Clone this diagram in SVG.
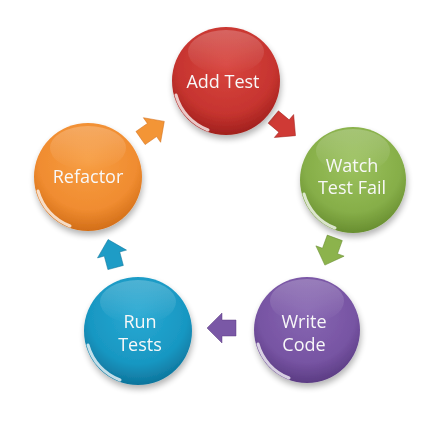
<svg xmlns="http://www.w3.org/2000/svg" width="435" height="429" viewBox="0 0 435 429">
<defs>
  <radialGradient id="gRed" cx="50%" cy="35%" r="65%">
    <stop offset="0" stop-color="#d8453f"/>
    <stop offset="0.7" stop-color="#c6342f"/>
    <stop offset="1" stop-color="#a0201d"/>
  </radialGradient>
  <radialGradient id="gGreen" cx="50%" cy="35%" r="65%">
    <stop offset="0" stop-color="#9cc25f"/>
    <stop offset="0.7" stop-color="#86ae48"/>
    <stop offset="1" stop-color="#688e30"/>
  </radialGradient>
  <radialGradient id="gPurple" cx="50%" cy="35%" r="65%">
    <stop offset="0" stop-color="#8766b2"/>
    <stop offset="0.7" stop-color="#7754a3"/>
    <stop offset="1" stop-color="#5b3c83"/>
  </radialGradient>
  <radialGradient id="gBlue" cx="50%" cy="35%" r="65%">
    <stop offset="0" stop-color="#28a9d3"/>
    <stop offset="0.7" stop-color="#1897c2"/>
    <stop offset="1" stop-color="#0e749b"/>
  </radialGradient>
  <radialGradient id="gOrange" cx="50%" cy="35%" r="65%">
    <stop offset="0" stop-color="#f79d42"/>
    <stop offset="0.7" stop-color="#f08c30"/>
    <stop offset="1" stop-color="#d26e18"/>
  </radialGradient>
  <linearGradient id="gShine" x1="0" y1="0" x2="0" y2="1">
    <stop offset="0" stop-color="#fff" stop-opacity="0.22"/>
    <stop offset="1" stop-color="#fff" stop-opacity="0"/>
  </linearGradient>
  <filter id="shadow" x="-20%" y="-20%" width="140%" height="150%">
    <feGaussianBlur in="SourceAlpha" stdDeviation="3"/>
    <feOffset dx="1" dy="4" result="b"/>
    <feComponentTransfer><feFuncA type="linear" slope="0.3"/></feComponentTransfer>
    <feMerge><feMergeNode/><feMergeNode in="SourceGraphic"/></feMerge>
  </filter>
  <path id="arrow" d="M-14,-8 L0,-8 L0,-15 L15,0 L0,15 L0,8 L-14,8 Z"/>
</defs>
<style>
  .lbl { font-family: "Open Sans", "Liberation Sans", sans-serif; font-size: 18px; fill: #f8f8f8; text-anchor: middle; }
  .shine { fill: url(#gShine); }
  .rim { fill: none; stroke: #ffffff; stroke-opacity: 0.75; stroke-width: 3; stroke-linecap: round; }
  .arr { stroke-width: 0.8; stroke-opacity: 0.6; }
</style>
<rect width="435" height="429" fill="#ffffff"/>

<g id="connectors">
  <use href="#arrow" class="arr" transform="translate(284,126) rotate(40)" fill="#cf3a35" stroke="#9e1e1c"/>
  <use href="#arrow" class="arr" transform="translate(330,251) rotate(110)" fill="#8cb34c" stroke="#648a2c"/>
  <use href="#arrow" class="arr" transform="translate(222,328) rotate(180)" fill="#7a58a6" stroke="#58397f"/>
  <use href="#arrow" class="arr" transform="translate(112,254) rotate(-105)" fill="#1e9cc6" stroke="#0c7198"/>
  <use href="#arrow" class="arr" transform="translate(152,130) rotate(-35)" fill="#f39536" stroke="#cf6a14"/>
</g>

<g id="node-add-test" filter="url(#shadow)">
  <circle cx="226" cy="81" r="54" fill="url(#gRed)"/>
  <ellipse cx="226" cy="52" rx="38" ry="22" class="shine"/>
  <path class="rim" d="M176,95 A52,52 0 0 0 208,130"/>
  <text class="lbl" x="223" y="88">Add Test</text>
</g>

<g id="node-watch-test-fail" filter="url(#shadow)">
  <circle cx="353" cy="180" r="53" fill="url(#gGreen)"/>
  <ellipse cx="353" cy="151" rx="37" ry="22" class="shine"/>
  <path class="rim" d="M304,194 A51,51 0 0 0 335,228"/>
  <text class="lbl" x="352" y="172">Watch</text>
  <text class="lbl" x="352" y="194">Test Fail</text>
</g>

<g id="node-write-code" filter="url(#shadow)">
  <circle cx="307" cy="330" r="53" fill="url(#gPurple)"/>
  <ellipse cx="307" cy="301" rx="37" ry="22" class="shine"/>
  <path class="rim" d="M258,344 A51,51 0 0 0 289,378"/>
  <text class="lbl" x="304" y="328">Write</text>
  <text class="lbl" x="304" y="351">Code</text>
</g>

<g id="node-run-tests" filter="url(#shadow)">
  <circle cx="138" cy="331" r="54" fill="url(#gBlue)"/>
  <ellipse cx="138" cy="302" rx="38" ry="22" class="shine"/>
  <path class="rim" d="M88,345 A52,52 0 0 0 120,380"/>
  <text class="lbl" x="140" y="328">Run</text>
  <text class="lbl" x="140" y="351">Tests</text>
</g>

<g id="node-refactor" filter="url(#shadow)">
  <circle cx="88" cy="177" r="54" fill="url(#gOrange)"/>
  <ellipse cx="88" cy="148" rx="38" ry="22" class="shine"/>
  <path class="rim" d="M38,191 A52,52 0 0 0 70,226"/>
  <text class="lbl" x="88" y="183">Refactor</text>
</g>
</svg>
